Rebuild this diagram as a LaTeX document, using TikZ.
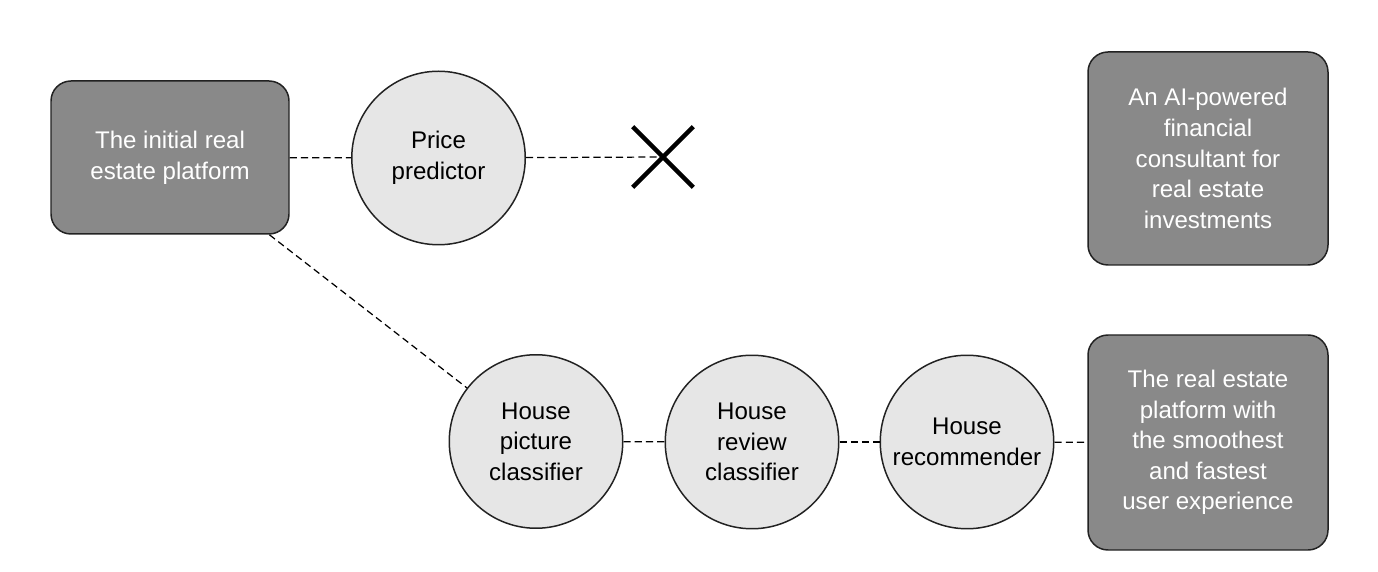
\documentclass[tikz,border=0pt]{standalone}
\usepackage{fontspec}
\setmainfont{Liberation Sans}
\usetikzlibrary{shapes.misc}
\definecolor{boxgray}{HTML}{898989}
\definecolor{modelgray}{HTML}{E6E6E6}
\definecolor{edgegray}{HTML}{222222}
\begin{document}
\begin{tikzpicture}[
        platform/.style={rectangle, rounded corners=0.4cm, draw=edgegray, line width=0.85pt, fill=boxgray, text=white, minimum width=4.8cm, align=center, font=\fontsize{13.7}{17.4}\selectfont},
        model/.style={circle, draw=edgegray, line width=0.85pt, fill=modelgray, minimum size=3.47cm, inner sep=0pt, align=center, font=\fontsize{13.7}{17.4}\selectfont},
        link/.style={dashed, dash pattern=on 4pt off 2.4pt, line width=0.7pt}
    ]
        \useasboundingbox (0,0) rectangle (27.56,-11.44);

        \node[platform, minimum width=4.76cm, minimum height=3.06cm] (initial) at (3.4,-3.15) {The initial real\\estate platform};
        \node[model] (price) at (8.77,-3.16) {Price\\predictor};
        \node[cross out, draw, line width=2.6pt, minimum size=1.12cm, inner sep=0pt] (stop) at (13.26,-3.14) {};
        \node[platform, minimum height=4.26cm] (consultant) at (24.16,-3.17) {An AI-powered\\financial\\consultant for\\real estate\\investments};

        \node[model] (picture) at (10.72,-8.83) {House\\picture\\classifier};
        \node[model] (review) at (15.04,-8.84) {House\\review\\classifier};
        \node[model] (recommender) at (19.34,-8.84) {House\\recommender};
        \node[platform, minimum height=4.3cm] (smooth) at (24.16,-8.85) {The real estate\\platform with\\the smoothest\\and fastest\\user experience};

        \draw[link] (initial) -- (price);
        \draw[link] (price) -- (stop.center);
        \draw[link] (initial) -- (picture);
        \draw[link] (picture) -- (review);
        \draw[link] (review) -- (recommender);
        \draw[link] (recommender) -- (smooth);
    \end{tikzpicture}
\end{document}
